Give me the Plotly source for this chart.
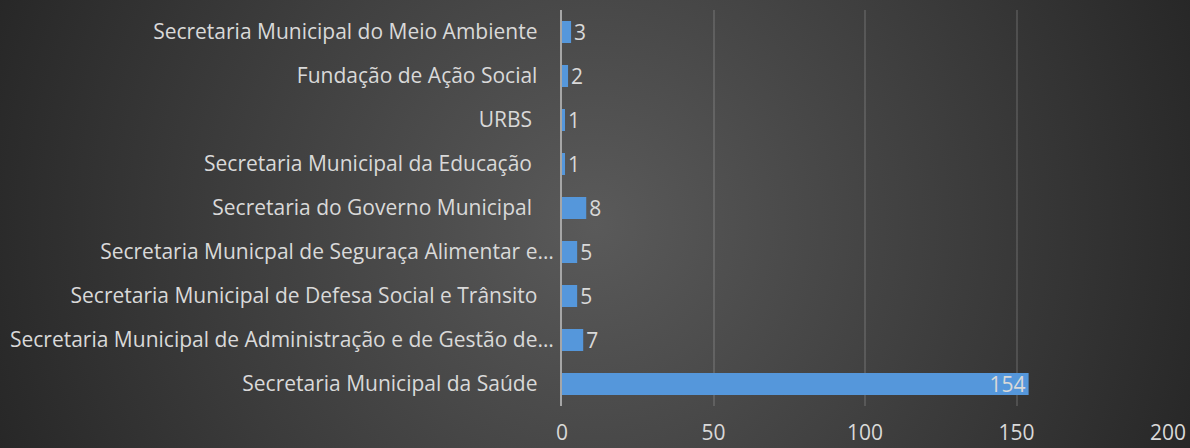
import plotly.graph_objects as go
import urllib.parse

categories = [
    "Secretaria Municipal da Saúde",
    "Secretaria Municipal de Administração e de Gestão de…",
    "Secretaria Municipal de Defesa Social e Trânsito",
    "Secretaria Municpal de Seguraça Alimentar e…",
    "Secretaria do Governo Municipal ",
    "Secretaria Municipal da Educação ",
    "URBS ",
    "Fundação de Ação Social",
    "Secretaria Municipal do Meio Ambiente",
]
values = [154, 7, 5, 5, 8, 1, 1, 2, 3]
x_ticks = [0, 50, 100, 150, 200]

W, H = 1190, 448
L, R, T, B = 562, 22, 10, 42
pw, ph = W - L - R, H - T - B
FONT = "Open Sans"
FS = 21
PAD = 120  # gradient image overhang beyond the page edges

ticktext = [
    c if c.endswith("…") else c.replace(" ", "\u00a0") if c.endswith(" ") else c
    for c in categories
]
ticktext = [t if t.endswith("…") else t + "\u00a0\u00a0\u00a0" for t in ticktext]

text_pos = ["inside" if v > 100 else "outside" for v in values]

GW, GH = W + 2 * PAD, H + 2 * PAD
svg = (
    f'<svg xmlns="http://www.w3.org/2000/svg" width="{GW}" height="{GH}" viewBox="0 0 {GW} {GH}" preserveAspectRatio="none">'
    f'<defs><radialGradient id="g" gradientUnits="userSpaceOnUse" cx="{595 + PAD}" cy="{224 + PAD}" r="640">'
    '<stop offset="0" stop-color="#5a5a5a"/><stop offset="1" stop-color="#272727"/>'
    '</radialGradient></defs>'
    f'<rect x="0" y="0" width="{GW}" height="{GH}" fill="url(#g)"/></svg>'
)
src = "data:image/svg+xml;charset=utf-8," + urllib.parse.quote(svg)

fig = go.Figure()
fig.add_trace(go.Bar(
    y=list(range(len(categories))),
    x=values,
    orientation="h",
    marker=dict(color="#5597db", line=dict(width=0)),
    text=[str(v) for v in values],
    textposition=text_pos,
    insidetextanchor="end",
    constraintext="none",
    textfont=dict(family=FONT, size=FS, color="#d9d9d9"),
    outsidetextfont=dict(family=FONT, size=FS, color="#d9d9d9"),
    insidetextfont=dict(family=FONT, size=FS, color="#d9d9d9"),
    cliponaxis=False,
    width=0.5,
))

fig.update_layout(
    width=W, height=H,
    margin=dict(l=L, r=R, t=T, b=B, pad=0, autoexpand=False),
    paper_bgcolor="#2b2b2b",
    plot_bgcolor="rgba(0,0,0,0)",
    showlegend=False,
    font=dict(family=FONT, size=FS, color="#d9d9d9"),
    images=[dict(
        source=src, xref="paper", yref="paper",
        x=-(L + PAD) / pw, y=1 + (T + PAD) / ph, sizex=GW / pw, sizey=GH / ph,
        xanchor="left", yanchor="top", sizing="stretch", layer="below",
    )],
    xaxis=dict(
        range=[0, 200], tickvals=x_ticks, ticktext=[str(t) for t in x_ticks],
        showgrid=True, gridcolor="rgba(255,255,255,0.13)", gridwidth=1.5,
        zeroline=False, showline=False, ticks="", automargin=False,
        ticklabelstandoff=12,
        tickfont=dict(family=FONT, size=FS, color="#d9d9d9"),
    ),
    yaxis=dict(
        range=[-0.5, len(categories) - 0.5],
        tickvals=list(range(len(categories))), ticktext=ticktext,
        showgrid=False, zeroline=False, automargin=False,
        showline=True, linecolor="#a6a6a6", linewidth=2,
        ticks="", ticklabelstandoff=2,
        tickfont=dict(family=FONT, size=FS, color="#d9d9d9"),
    ),
)

fig.write_html(
    "out.html",
    config={"displayModeBar": False},
    post_script="document.body.style.margin='0';document.body.style.overflow='hidden';",
)
